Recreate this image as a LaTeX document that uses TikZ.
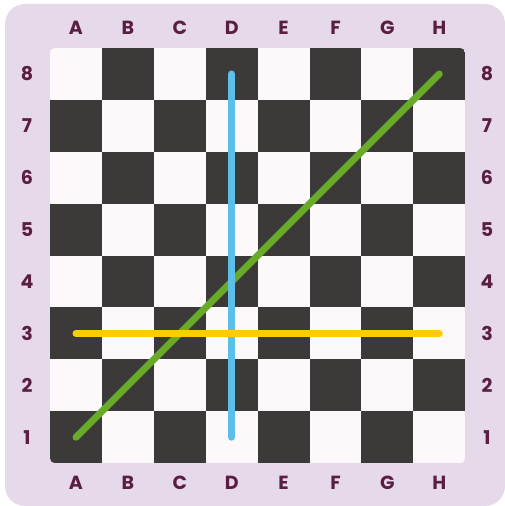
\documentclass[tikz,border=0pt]{standalone}
\usepackage{fontspec}
\setmainfont{Poppins}
\definecolor{frame}{HTML}{E6D9EA}
\definecolor{darksq}{HTML}{3B3A39}
\definecolor{lightsq}{HTML}{FDF9FB}
\definecolor{labelc}{HTML}{5A1F40}
\definecolor{blueln}{HTML}{5BBFE9}
\definecolor{yellowln}{HTML}{FFCC00}
\definecolor{greenln}{HTML}{6AAA2A}
\begin{document}
\begin{tikzpicture}[x=1pt,y=1pt,
  lbl/.style={text=labelc,font=\fontsize{19}{19}\selectfont\bfseries,inner sep=0pt,anchor=center},
  mvline/.style={line width=7pt,line cap=round}]
\useasboundingbox (0,0) rectangle (505,506);
\fill[frame,rounded corners=20pt] (5,0) rectangle (505,502);
\def\sq{51.9}
\begin{scope}
\clip[rounded corners=5pt] (50,42.8) rectangle (465.2,458);
\fill[lightsq] (50,42.8) rectangle (465.2,458);
\foreach \i in {0,...,7}{
  \foreach \j in {0,...,7}{
    \pgfmathtruncatemacro{\myparity}{mod(\i+\j,2)}
    \ifnum\myparity=0
      \fill[darksq] ({50+\sq*\i},{42.8+\sq*\j}) rectangle ({50+\sq*(\i+1)},{42.8+\sq*(\j+1)});
    \fi
  }
}
\end{scope}
\foreach \l [count=\k from 0] in {A,B,C,D,E,F,G,H}{
  \node[lbl] (top\l) at ({76+\sq*\k},478) {\l};
  \node[lbl] (bot\l) at ({76+\sq*\k},23) {\l};
}
\foreach \n in {1,...,8}{
  \node[lbl] (left\n) at (27,{68.75+\sq*(\n-1)}) {\n};
  \node[lbl] (right\n) at (487,{68.75+\sq*(\n-1)}) {\n};
}
\coordinate (a1) at (76,68.75);
\coordinate (h8) at (439.3,432);
\coordinate (d1) at (231.6,68.75);
\coordinate (d8) at (231.6,432);
\coordinate (a3) at (76,172.55);
\coordinate (h3) at (439.3,172.55);
\draw[mvline,greenln] (a1) -- (h8);
\draw[mvline,blueln] (d1) -- (d8);
\draw[mvline,yellowln] (a3) -- (h3);
\end{tikzpicture}
\end{document}
